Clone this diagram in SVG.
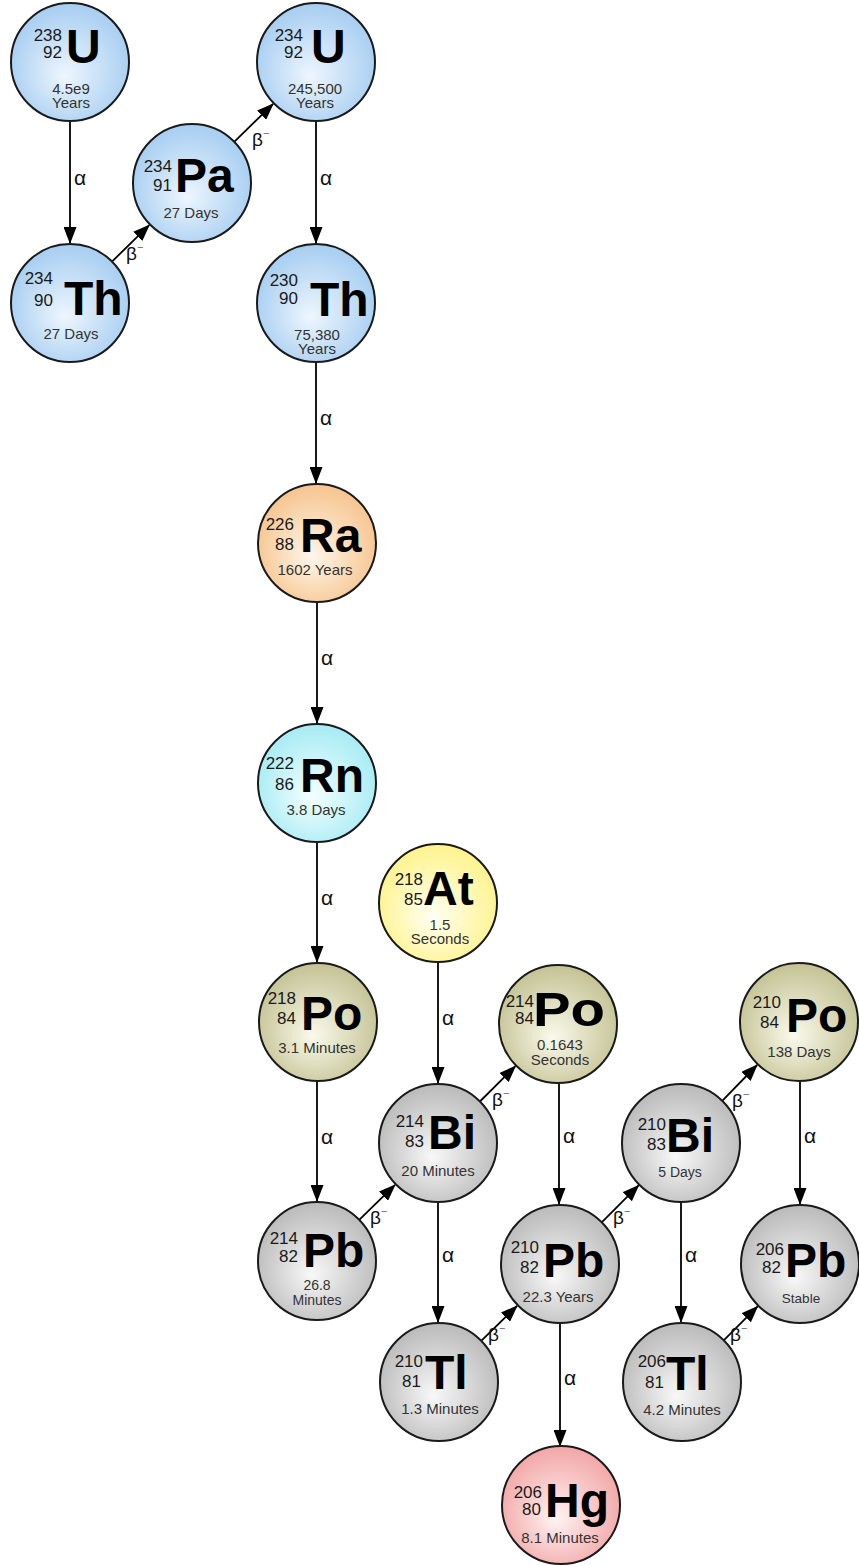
<svg xmlns="http://www.w3.org/2000/svg" width="859" height="1566" viewBox="0 0 859 1566">
<style>
.n{stroke:#1a1a1a;stroke-width:2}
.sym{font-family:"Liberation Sans",Arial,sans-serif;font-weight:bold;font-size:48px;fill:#000}
.num{font-family:"Liberation Sans",Arial,sans-serif;font-size:17px;fill:#1a1a1a;text-anchor:end}
.hl{font-family:"Liberation Sans",Arial,sans-serif;font-size:15px;fill:#333;text-anchor:middle}
.a{font-family:"Liberation Sans",Arial,sans-serif;font-size:21px;fill:#111}
.b{font-family:"Liberation Sans",Arial,sans-serif;font-size:19px;fill:#111}
.m{font-size:11px;fill:#666}
.c line{stroke:#000;stroke-width:1.8;marker-end:url(#ah)}
</style>
<defs>
<marker id="ah" markerUnits="userSpaceOnUse" markerWidth="17" markerHeight="13" refX="16" refY="6.5" orient="auto" viewBox="0 0 17 13">
<path d="M0,0 L17,6.5 L0,13 z" fill="#000"/>
</marker>
<radialGradient id="gB" cx="50%" cy="55%" r="55%" fx="45%" fy="62%"><stop offset="0" stop-color="#eef6fe"/><stop offset="1" stop-color="#a6cdf1"/></radialGradient>
<radialGradient id="gO" cx="50%" cy="55%" r="55%" fx="45%" fy="62%"><stop offset="0" stop-color="#fff6ea"/><stop offset="1" stop-color="#f6c48e"/></radialGradient>
<radialGradient id="gC" cx="50%" cy="55%" r="55%" fx="45%" fy="62%"><stop offset="0" stop-color="#f4ffff"/><stop offset="1" stop-color="#a6ebf4"/></radialGradient>
<radialGradient id="gP" cx="50%" cy="55%" r="55%" fx="45%" fy="62%"><stop offset="0" stop-color="#fafaec"/><stop offset="1" stop-color="#c4c294"/></radialGradient>
<radialGradient id="gY" cx="50%" cy="55%" r="55%" fx="45%" fy="62%"><stop offset="0" stop-color="#fffff2"/><stop offset="1" stop-color="#fff38c"/></radialGradient>
<radialGradient id="gG" cx="50%" cy="55%" r="55%" fx="45%" fy="62%"><stop offset="0" stop-color="#f8f8f8"/><stop offset="1" stop-color="#bababa"/></radialGradient>
<radialGradient id="gR" cx="50%" cy="55%" r="55%" fx="45%" fy="62%"><stop offset="0" stop-color="#fff3f3"/><stop offset="1" stop-color="#f2a6a6"/></radialGradient>
</defs>
<rect width="859" height="1566" fill="#fff"/>

<g id="connectors" class="c">
<line x1="70" y1="122" x2="70" y2="243"/>
<line x1="316" y1="122" x2="316" y2="243"/>
<line x1="316" y1="363" x2="316" y2="483"/>
<line x1="317" y1="603" x2="317" y2="723"/>
<line x1="317" y1="843" x2="317" y2="962"/>
<line x1="317" y1="1082" x2="317" y2="1201"/>
<line x1="438" y1="963" x2="438" y2="1083"/>
<line x1="559" y1="1084" x2="559" y2="1204"/>
<line x1="438" y1="1203" x2="438" y2="1322"/>
<line x1="560" y1="1324" x2="560" y2="1446"/>
<line x1="681" y1="1203" x2="681" y2="1322"/>
<line x1="800" y1="1082" x2="800" y2="1204"/>
<line x1="112" y1="261.6" x2="149.2" y2="225.1"/>
<line x1="234.2" y1="141.8" x2="273.1" y2="103.9"/>
<line x1="359.2" y1="1219.8" x2="395" y2="1184.9"/>
<line x1="479.9" y1="1101.5" x2="515.4" y2="1066.2"/>
<line x1="481.2" y1="1340.8" x2="517" y2="1305.9"/>
<line x1="601.7" y1="1222.3" x2="638.6" y2="1185.4"/>
<line x1="722.2" y1="1100.8" x2="757.1" y2="1065"/>
<line x1="723.7" y1="1340.3" x2="757.6" y2="1306.4"/>
<text class="a" x="74" y="185">α</text>
<text class="a" x="320" y="185">α</text>
<text class="a" x="320" y="425">α</text>
<text class="a" x="321" y="665">α</text>
<text class="a" x="321" y="905">α</text>
<text class="a" x="321" y="1144">α</text>
<text class="a" x="442" y="1025">α</text>
<text class="a" x="563" y="1143">α</text>
<text class="a" x="442" y="1262">α</text>
<text class="a" x="564" y="1385">α</text>
<text class="a" x="685" y="1262">α</text>
<text class="a" x="804" y="1143">α</text>
<text class="b" x="126" y="260">β<tspan class="m" dy="-9">−</tspan></text>
<text class="b" x="252" y="146">β<tspan class="m" dy="-9">−</tspan></text>
<text class="b" x="370" y="1224">β<tspan class="m" dy="-9">−</tspan></text>
<text class="b" x="492" y="1106">β<tspan class="m" dy="-9">−</tspan></text>
<text class="b" x="488" y="1341">β<tspan class="m" dy="-9">−</tspan></text>
<text class="b" x="613" y="1224">β<tspan class="m" dy="-9">−</tspan></text>
<text class="b" x="732" y="1107">β<tspan class="m" dy="-9">−</tspan></text>
<text class="b" x="730" y="1341">β<tspan class="m" dy="-9">−</tspan></text>
</g>

<g id="U238"><circle class="n" cx="70" cy="62" r="59" fill="url(#gB)"/>
<text class="num" x="62" y="41">238</text><text class="num" x="62" y="58">92</text>
<text class="sym" x="66" y="63">U</text>
<text class="hl" x="71" y="94">4.5e9</text><text class="hl" x="71" y="108">Years</text></g>

<g id="Th234"><circle class="n" cx="70" cy="303" r="59" fill="url(#gB)"/>
<text class="num" x="53" y="284">234</text><text class="num" x="53" y="306">90</text>
<text class="sym" x="64" y="315">Th</text>
<text class="hl" x="71" y="339">27 Days</text></g>

<g id="Pa234"><circle class="n" cx="192" cy="183" r="59" fill="url(#gB)"/>
<text class="num" x="172" y="172">234</text><text class="num" x="172" y="191">91</text>
<text class="sym" x="175" y="192">Pa</text>
<text class="hl" x="191" y="218">27 Days</text></g>

<g id="U234"><circle class="n" cx="316" cy="62" r="59" fill="url(#gB)"/>
<text class="num" x="303" y="41">234</text><text class="num" x="303" y="58">92</text>
<text class="sym" x="311" y="63">U</text>
<text class="hl" x="315" y="94">245,500</text><text class="hl" x="315" y="108">Years</text></g>

<g id="Th230"><circle class="n" cx="316" cy="303" r="59" fill="url(#gB)"/>
<text class="num" x="298" y="286">230</text><text class="num" x="298" y="304">90</text>
<text class="sym" x="310" y="316">Th</text>
<text class="hl" x="317" y="340">75,380</text><text class="hl" x="317" y="354">Years</text></g>

<g id="Ra226"><circle class="n" cx="317" cy="543" r="59" fill="url(#gO)"/>
<text class="num" x="294" y="530">226</text><text class="num" x="294" y="550">88</text>
<text class="sym" x="300" y="552">Ra</text>
<text class="hl" x="315" y="575">1602 Years</text></g>

<g id="Rn222"><circle class="n" cx="317" cy="783" r="59" fill="url(#gC)"/>
<text class="num" x="294" y="769">222</text><text class="num" x="294" y="790">86</text>
<text class="sym" x="300" y="792">Rn</text>
<text class="hl" x="316" y="815">3.8 Days</text></g>

<g id="Po218"><circle class="n" cx="318" cy="1022" r="59" fill="url(#gP)"/>
<text class="num" x="296" y="1004">218</text><text class="num" x="296" y="1024">84</text>
<text class="sym" x="301" y="1030">Po</text>
<text class="hl" x="317" y="1053">3.1 Minutes</text></g>

<g id="Pb214"><circle class="n" cx="317" cy="1261" r="59" fill="url(#gG)"/>
<text class="num" x="298" y="1244">214</text><text class="num" x="298" y="1262">82</text>
<text class="sym" x="303" y="1267">Pb</text>
<text class="hl" x="317" y="1290" style="font-size:14px">26.8</text><text class="hl" x="317" y="1305" style="font-size:14px">Minutes</text></g>

<g id="At218"><circle class="n" cx="438" cy="903" r="59" fill="url(#gY)"/>
<text class="num" x="423" y="885">218</text><text class="num" x="423" y="905">85</text>
<text class="sym" x="423" y="905">At</text>
<text class="hl" x="440" y="930">1.5</text><text class="hl" x="440" y="944">Seconds</text></g>

<g id="Po214"><circle class="n" cx="558" cy="1024" r="59" fill="url(#gP)"/>
<text class="num" x="534" y="1007">214</text><text class="num" x="534" y="1024">84</text>
<text class="sym" x="533" y="1026" textLength="72" lengthAdjust="spacingAndGlyphs">Po</text>
<text class="hl" x="560" y="1050">0.1643</text><text class="hl" x="560" y="1065">Seconds</text></g>

<g id="Bi214"><circle class="n" cx="438" cy="1143" r="59" fill="url(#gG)"/>
<text class="num" x="424" y="1127">214</text><text class="num" x="424" y="1147">83</text>
<text class="sym" x="428" y="1149">Bi</text>
<text class="hl" x="438" y="1176">20 Minutes</text></g>

<g id="Pb210"><circle class="n" cx="560" cy="1264" r="59" fill="url(#gG)"/>
<text class="num" x="539" y="1253">210</text><text class="num" x="539" y="1273">82</text>
<text class="sym" x="543" y="1277">Pb</text>
<text class="hl" x="558" y="1302">22.3 Years</text></g>

<g id="Tl210"><circle class="n" cx="439" cy="1382" r="59" fill="url(#gG)"/>
<text class="num" x="423" y="1367">210</text><text class="num" x="421" y="1387">81</text>
<text class="sym" x="425" y="1389">Tl</text>
<text class="hl" x="440" y="1414">1.3 Minutes</text></g>

<g id="Hg206"><circle class="n" cx="561" cy="1505" r="59" fill="url(#gR)"/>
<text class="num" x="542" y="1498">206</text><text class="num" x="541" y="1515">80</text>
<text class="sym" x="545" y="1517">Hg</text>
<text class="hl" x="560" y="1543">8.1 Minutes</text></g>

<g id="Bi210"><circle class="n" cx="681" cy="1143" r="59" fill="url(#gG)"/>
<text class="num" x="666" y="1130">210</text><text class="num" x="666" y="1150">83</text>
<text class="sym" x="666" y="1152">Bi</text>
<text class="hl" x="680" y="1177" style="font-size:14px">5 Days</text></g>

<g id="Po210"><circle class="n" cx="799" cy="1022" r="59" fill="url(#gP)"/>
<text class="num" x="781" y="1008">210</text><text class="num" x="779" y="1028">84</text>
<text class="sym" x="786" y="1032">Po</text>
<text class="hl" x="799" y="1057">138 Days</text></g>

<g id="Tl206"><circle class="n" cx="682" cy="1382" r="59" fill="url(#gG)"/>
<text class="num" x="666" y="1367">206</text><text class="num" x="664" y="1388">81</text>
<text class="sym" x="666" y="1390">Tl</text>
<text class="hl" x="682" y="1415">4.2 Minutes</text></g>

<g id="Pb206"><circle class="n" cx="800" cy="1264" r="59" fill="url(#gG)"/>
<text class="num" x="784" y="1255">206</text><text class="num" x="781" y="1273">82</text>
<text class="sym" x="785" y="1277">Pb</text>
<text class="hl" x="801" y="1303" style="font-size:13.5px">Stable</text></g>
</svg>
